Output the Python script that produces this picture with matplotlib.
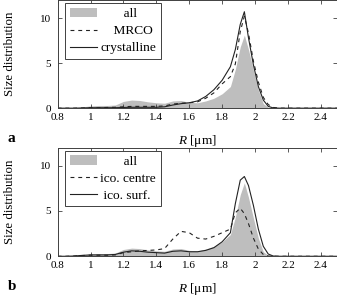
import numpy as np
import matplotlib
matplotlib.use("Agg")
import matplotlib.pyplot as plt

# radius grid (um)
R = [0.8, 0.85, 0.9, 0.95, 1.0, 1.05, 1.1, 1.15, 1.2, 1.25, 1.3, 1.35, 1.4, 1.45,
     1.5, 1.55, 1.6, 1.65, 1.7, 1.75, 1.8, 1.85, 1.88, 1.91, 1.935, 1.96, 1.99,
     2.02, 2.05, 2.08, 2.11, 2.15, 2.2, 2.3, 2.4, 2.5]

# size distributions
all_dist = [0, 0, 0.05, 0.15, 0.25, 0.3, 0.3, 0.35, 0.75, 0.9, 0.85, 0.7, 0.6, 0.55,
            0.8, 0.85, 0.65, 0.6, 0.8, 1.1, 1.6, 2.4, 4.3, 6.8, 8.1, 6.5, 4.2,
            2.0, 0.5, 0.1, 0, 0, 0, 0, 0, 0]
mrco = [0, 0, 0, 0.02, 0.05, 0.05, 0.08, 0.1, 0.15, 0.2, 0.2, 0.2, 0.2, 0.25,
        0.45, 0.55, 0.6, 0.7, 1.1, 1.7, 2.7, 3.5, 4.9, 8.5, 10.2, 8.3, 5.2,
        2.9, 1.2, 0.4, 0.08, 0, 0, 0, 0, 0]
crystalline = [0, 0, 0, 0.02, 0.05, 0.05, 0.05, 0.05, 0.08, 0.1, 0.1, 0.1, 0.1, 0.15,
               0.35, 0.5, 0.6, 0.8, 1.3, 2.05, 3.1, 4.6, 6.5, 9.3, 10.7, 7.8, 4.8,
               2.4, 0.9, 0.2, 0.03, 0, 0, 0, 0, 0]
ico_centre = [0, 0, 0.03, 0.08, 0.12, 0.12, 0.12, 0.15, 0.4, 0.5, 0.6, 0.65, 0.7, 0.85,
              1.9, 2.75, 2.6, 2.0, 1.9, 2.2, 2.6, 3.0, 4.8, 5.3, 4.7, 3.6, 2.0,
              0.8, 0.2, 0.03, 0, 0, 0, 0, 0, 0]
ico_surf = [0, 0, 0.03, 0.1, 0.15, 0.15, 0.15, 0.2, 0.45, 0.6, 0.55, 0.45, 0.4, 0.35,
            0.55, 0.6, 0.5, 0.5, 0.65, 0.95, 1.6, 2.6, 5.8, 8.4, 8.8, 7.8, 5.6,
            3.0, 1.1, 0.25, 0.03, 0, 0, 0, 0, 0]

# legend labels (leading spaces centre them in the legend column)
panels = [
    ("a", ["       all", "    MRCO", "crystalline"], mrco, crystalline),
    ("b", ["       all", "ico. centre", " ico. surf."], ico_centre, ico_surf),
]

plt.rcParams["font.family"] = "Liberation Serif"
plt.rcParams["mathtext.fontset"] = "custom"
plt.rcParams["mathtext.it"] = "Liberation Serif:italic"
plt.rcParams["mathtext.rm"] = "Liberation Serif"

fig = plt.figure(figsize=(3.37, 2.98), dpi=100)
frame = "#404040"

positions = [[0.171, 0.637, 0.83, 0.363], [0.171, 0.14, 0.83, 0.365]]

for (tag, labels, dashed, solid), pos in zip(panels, positions):
    ax = fig.add_axes(pos)
    ax.fill_between(R, all_dist, color="#bebebe", lw=0, label=labels[0])
    ax.plot(R, dashed, color="#222222", lw=0.8, ls=(0, (3.5, 3.5)), label=labels[1])
    ax.plot(R, solid, color="#222222", lw=0.8, label=labels[2])

    ax.set_xlim(0.8, 2.5)
    ax.set_ylim(0, 12)
    ax.set_xticks(np.arange(0.8, 2.41, 0.2))
    ax.set_xticklabels(["0.8", "1", "1.2", "1.4", "1.6", "1.8", "2", "2.2", "2.4"])
    ax.set_yticks([0, 5, 10])
    ax.tick_params(direction="in", top=True, right=True, length=3, width=0.6,
                   color=frame, labelsize=8)
    ax.tick_params(axis="x", pad=3.3)
    ax.tick_params(axis="y", pad=5)
    for s in ax.spines.values():
        s.set_color(frame)
        s.set_linewidth(0.7)

    ax.set_ylabel("Size distribution", fontsize=9.3)
    ax.yaxis.set_label_coords(-0.15, 0.5)
    ax.set_xlabel(r"$R$ [μm]", fontsize=9.5, labelpad=8)

    leg = ax.legend(loc="upper left", bbox_to_anchor=(0.028, 0.97), borderaxespad=0,
                    fontsize=9.6, frameon=True, fancybox=False, edgecolor=frame,
                    framealpha=1, handlelength=2.0, labelspacing=0.35,
                    handletextpad=0.25, borderpad=0.35)
    leg.get_frame().set_linewidth(0.7)

    ax.text(-0.178, -0.28, tag, transform=ax.transAxes, fontsize=11,
            fontweight="bold", va="center", ha="left")

fig.savefig("out.png", dpi=100)
